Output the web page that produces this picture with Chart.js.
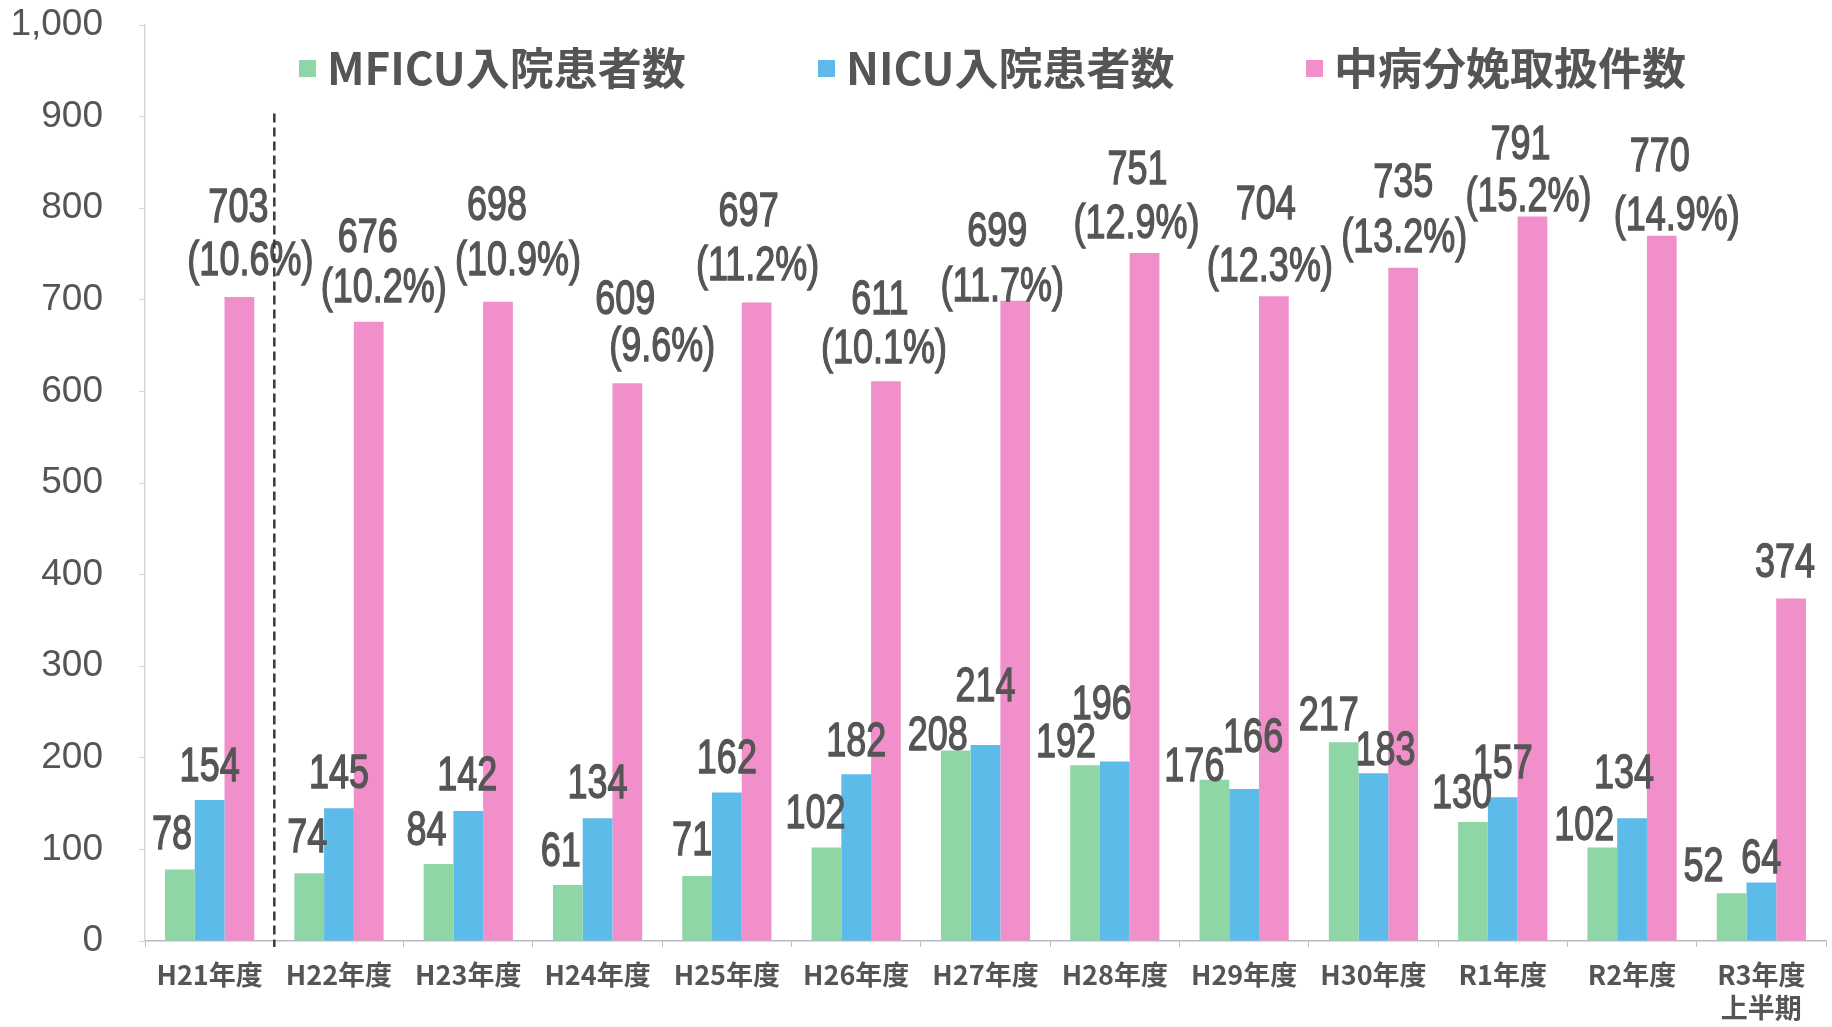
<!DOCTYPE html>
<html lang="ja">
<head>
<meta charset="utf-8">
<title>MFICU・NICU入院患者数と中病分娩取扱件数</title>
<script src="https://cdn.jsdelivr.net/npm/chart.js@4.4.0/dist/chart.umd.min.js"></script>
<style>
  html, body { margin: 0; padding: 0; background: #fff; }
  #wrap { width: 1832px; height: 1027px; }
</style>
</head>
<body>
<div id="wrap"><canvas id="birthChart" width="1832" height="1027"></canvas></div>
<script>
// 年度
const years = ['H21年度', 'H22年度', 'H23年度', 'H24年度', 'H25年度', 'H26年度', 'H27年度',
  'H28年度', 'H29年度', 'H30年度', 'R1年度', 'R2年度', ['R3年度', '上半期']];

// 件数
const mficu = [78, 74, 84, 61, 71, 102, 208, 192, 176, 217, 130, 102, 52];
const nicu = [154, 145, 142, 134, 162, 182, 214, 196, 166, 183, 157, 134, 64];
const deliveries = [703, 676, 698, 609, 697, 611, 699, 751, 704, 735, 791, 770, 374];
// 割合 (%)
const deliveryShare = [10.6, 10.2, 10.9, 9.6, 11.2, 10.1, 11.7, 12.9, 12.3, 13.2, 15.2, 14.9, null];

const yMax = 1000;
const yStep = 100;

// label nudges from the bar top, [dx, dy] px
const shiftMficu = [[-8, -34], [-2, -34], [-12, -32], [-7, -32], [-5, -34], [-11, -33], [-18, -14],
  [-19, -21], [-20, -12], [-15, -25], [-11, -27], [-18, -21], [-28, -26]];
const shiftNicu = [[0, -32], [0, -33], [-1, -34], [0, -33], [0, -33], [0, -32], [0, -57],
  [-13, -56], [9, -50], [12, -22], [0, -32], [-8, -43], [0, -23]];
const shiftDeliv = [[-1, -88], [-1, -83], [-1, -95], [-2, -82], [-8, -90], [-6, -81], [-18, -68],
  [-7, -82], [-8, -90], [0, -84], [-12, -71], [-2, -78], [-6, -35]];
const shiftShare = [[11, -35], [15, -33], [20, -40], [35, -35], [1, -36], [-2, -32], [-13, -13],
  [-8, -28], [-4, -28], [1, -29], [-4, -19], [15, -19], [0, 0]];

const textGray = '#555555';

function narrowText(ctx, text, x, y) {
  ctx.save();
  ctx.translate(x, y);
  ctx.scale(0.75, 1);
  ctx.strokeText(text, 0, 0);
  ctx.fillText(text, 0, 0);
  ctx.restore();
}

const valueLabels = {
  id: 'valueLabels',
  afterDatasetsDraw(chart) {
    const ctx = chart.ctx;
    const shifts = [shiftMficu, shiftNicu, shiftDeliv];
    ctx.save();
    ctx.fillStyle = textGray;
    ctx.strokeStyle = textGray;
    ctx.lineWidth = 1.4;
    ctx.textAlign = 'center';
    ctx.textBaseline = 'middle';
    ctx.font = '48px "Liberation Sans", Arial, sans-serif';
    chart.data.datasets.forEach((ds, di) => {
      const meta = chart.getDatasetMeta(di);
      meta.data.forEach((bar, i) => {
        const s = shifts[di][i];
        narrowText(ctx, String(ds.data[i]), bar.x + s[0], bar.y + s[1]);
        if (di === 2 && deliveryShare[i] !== null) {
          const p = shiftShare[i];
          narrowText(ctx, '(' + deliveryShare[i].toFixed(1) + '%)', bar.x + p[0], bar.y + p[1]);
        }
      });
    });
    ctx.restore();
  }
};

// H21 と H22 の間の区切り線
const divider = {
  id: 'divider',
  afterDatasetsDraw(chart) {
    const x = chart.scales.x;
    const y = chart.scales.y;
    const px = (x.getPixelForValue(0) + x.getPixelForValue(1)) / 2;
    const ctx = chart.ctx;
    ctx.save();
    ctx.strokeStyle = '#3a3a3a';
    ctx.lineWidth = 2.5;
    ctx.setLineDash([9, 5]);
    ctx.beginPath();
    ctx.moveTo(px, y.getPixelForValue(900) - 3);
    ctx.lineTo(px, y.bottom + 6);
    ctx.stroke();
    ctx.restore();
  }
};

const legendStarts = [299, 818, 1306];
const topLegend = {
  id: 'topLegend',
  afterDraw(chart) {
    const ctx = chart.ctx;
    ctx.save();
    ctx.font = 'bold 44px "Noto Sans CJK JP", sans-serif';
    ctx.textBaseline = 'middle';
    ctx.textAlign = 'left';
    chart.data.datasets.forEach((ds, i) => {
      const x0 = legendStarts[i];
      ctx.fillStyle = ds.backgroundColor;
      ctx.fillRect(x0, 60, 17, 17);
      ctx.fillStyle = textGray;
      ctx.fillText(ds.label, x0 + 28, 68);
    });
    ctx.restore();
  }
};

const ctx = document.getElementById('birthChart').getContext('2d');

new Chart(ctx, {
  type: 'bar',
  data: {
    labels: years,
    datasets: [
      { label: 'MFICU入院患者数', data: mficu, backgroundColor: '#8ed6a6' },
      { label: 'NICU入院患者数', data: nicu, backgroundColor: '#5cbbe9' },
      { label: '中病分娩取扱件数', data: deliveries, backgroundColor: '#f18fcb' }
    ]
  },
  options: {
    responsive: false,
    animation: false,
    devicePixelRatio: 1,
    layout: { padding: { top: 25, right: 6, left: 0, bottom: 0 } },
    datasets: {
      bar: { barPercentage: 1, categoryPercentage: 0.69, borderWidth: 0 }
    },
    plugins: {
      legend: { display: false },
      tooltip: { enabled: false }
    },
    scales: {
      x: {
        ticks: {
          color: textGray,
          font: { family: '"Noto Sans CJK JP", sans-serif', size: 27, weight: 'bold' },
          padding: 12,
          maxRotation: 0,
          autoSkip: false
        },
        grid: { drawOnChartArea: false, tickLength: 6, color: '#b8bcc6', offset: true },
        border: { color: '#b8bcc6', width: 1.5 },
        afterFit(scale) { scale.height = 86; }
      },
      y: {
        min: 0,
        max: yMax,
        ticks: {
          stepSize: yStep,
          padding: 36,
          color: textGray,
          font: { family: '"Liberation Sans", Arial, sans-serif', size: 37 },
          callback: (value) => value.toLocaleString('en-US')
        },
        grid: { drawOnChartArea: false, tickLength: 6, color: '#d6d6da' },
        border: { color: '#d6d6da', width: 1.5 },
        afterFit(scale) {
          scale.width = 145;
          // tick padding would otherwise push the plot top down
          scale.paddingTop = 0;
          scale.paddingBottom = 0;
        }
      }
    }
  },
  plugins: [valueLabels, divider, topLegend]
});
</script>
</body>
</html>
